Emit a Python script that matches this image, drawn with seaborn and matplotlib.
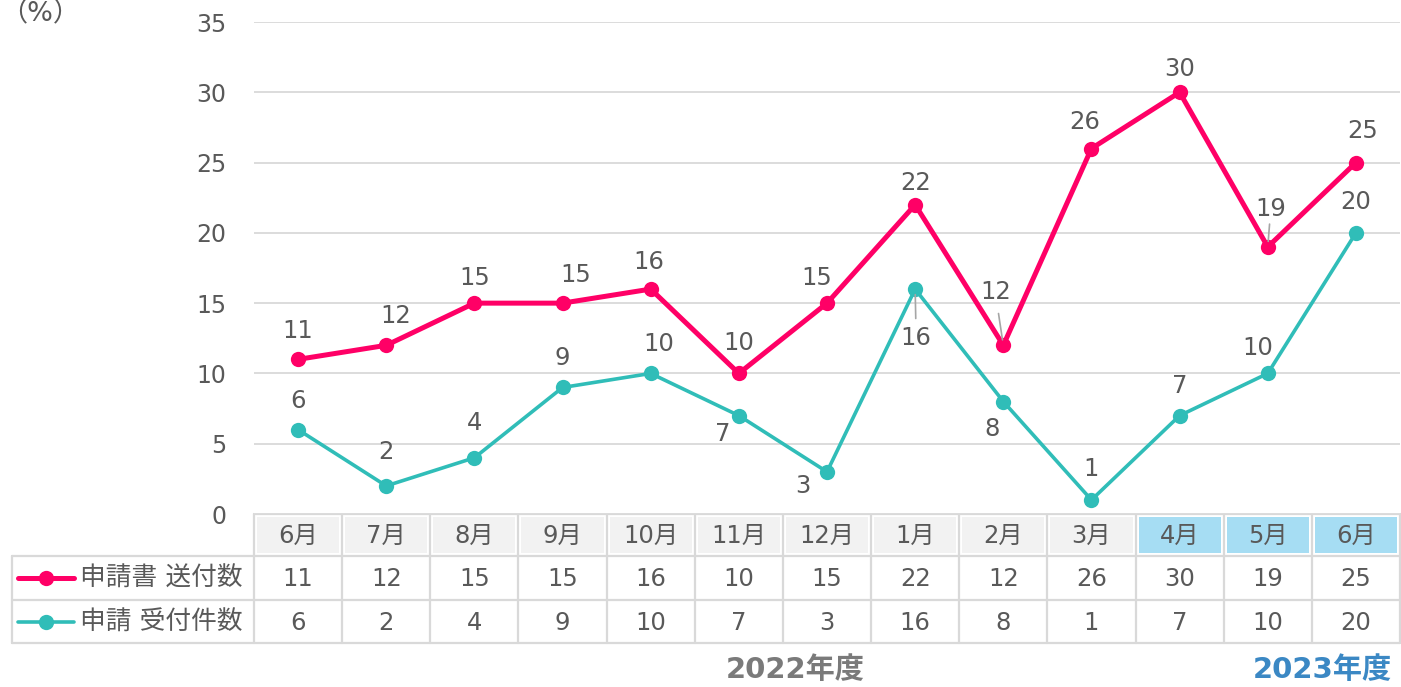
import matplotlib
matplotlib.use("Agg")
import matplotlib.pyplot as plt
import seaborn as sns
import pandas as pd
from matplotlib.patches import Rectangle

months = ["6月", "7月", "8月", "9月", "10月", "11月", "12月", "1月", "2月", "3月", "4月", "5月", "6月"]
sent = [11, 12, 15, 15, 16, 10, 15, 22, 12, 26, 30, 19, 25]
received = [6, 2, 4, 9, 10, 7, 3, 16, 8, 1, 7, 10, 20]
series_names = ["申請書 送付数", "申請 受付件数"]
year_labels = ["2022年度", "2023年度"]
n_2023 = 3

PINK = "#ff0066"
TEAL = "#30bdb8"
TXT = "#595959"
GRID = "#d9d9d9"

# label offsets in pixels (dx, dy), screen y down
sent_off = [(0, -28), (9, -29), (0, -25), (13, -28), (-2, -27), (0, -30), (-10, -25),
            (0, -22), (-8, -53), (-7, -27), (0, -23), (3, -38), (7, -32)]
recv_off = [(0, -29), (0, -34), (0, -35), (0, -29), (8, -29), (-16, 18), (-24, 14),
            (1, 49), (-11, 27), (0, -31), (0, -30), (-10, -25), (0, -31)]
sent_leader = {8, 11}
recv_leader = {7}

sns.set_theme(style="white")
plt.rcParams["font.family"] = ["DejaVu Sans", "Noto Sans CJK JP"]

W, H = 1401, 687
fig = plt.figure(figsize=(W / 100, H / 100), dpi=100)
x0, x1, y0, y1 = 254, 1400, 514, 22
ax = fig.add_axes([x0 / W, 1 - y0 / H, (x1 - x0) / W, (y0 - y1) / H])

df = pd.DataFrame({"i": list(range(len(months))) * 2,
                   "v": sent + received,
                   "s": [series_names[0]] * len(sent) + [series_names[1]] * len(received)})
sns.lineplot(data=df[df.s == series_names[1]], x="i", y="v", color=TEAL, linewidth=2.6,
             marker="o", markersize=11, markeredgewidth=0, ax=ax, zorder=3)
sns.lineplot(data=df[df.s == series_names[0]], x="i", y="v", color=PINK, linewidth=3.6,
             marker="o", markersize=11, markeredgewidth=0, ax=ax, zorder=4)

ax.set_xlim(-0.5, len(months) - 0.5)
ax.set_ylim(0, 35)
ax.set_yticks(range(0, 36, 5))
ax.set_xticks([])
ax.set_xlabel("")
ax.set_ylabel("")
ax.grid(axis="y", color=GRID, linewidth=1.3)
for s in ax.spines.values():
    s.set_visible(False)
ax.tick_params(axis="y", length=0, pad=20, labelsize=17, labelcolor=TXT)

px = 0.72  # points per pixel
def label(vals, offs, leaders):
    for i, (v, (dx, dy)) in enumerate(zip(vals, offs)):
        ax.annotate(str(v), (i, v), xytext=(dx * px, -dy * px), textcoords="offset points",
                    ha="center", va="center", fontsize=17.5, color=TXT, zorder=6)
        if i in leaders:
            ax.annotate("", (i, v), xytext=(dx * px * 0.6, -dy * px * 0.6),
                        textcoords="offset points",
                        arrowprops=dict(arrowstyle="-", color="#a6a6a6", lw=1.2,
                                        shrinkA=0, shrinkB=4), zorder=5)
label(sent, sent_off, sent_leader)
label(received, recv_off, recv_leader)

# table drawn in pixel coordinates
tb = fig.add_axes([0, 0, 1, 1], zorder=-1)
tb.set_xlim(0, W)
tb.set_ylim(H, 0)
tb.axis("off")
cw = (x1 - x0) / len(months)
rows = [514, 556, 600, 643]
for i, m in enumerate(months):
    cx = x0 + cw * i
    fill = "#a6ddf3" if i >= len(months) - n_2023 else "#f2f2f2"
    tb.add_patch(Rectangle((cx + 3, rows[0] + 3), cw - 6, rows[1] - rows[0] - 6, color=fill, lw=0))
    tb.text(cx + cw / 2, (rows[0] + rows[1]) / 2 + 1, m, ha="center", va="center", fontsize=17.5, color=TXT)
    tb.text(cx + cw / 2, (rows[1] + rows[2]) / 2 + 1, str(sent[i]), ha="center", va="center", fontsize=17.5, color=TXT)
    tb.text(cx + cw / 2, (rows[2] + rows[3]) / 2 + 1, str(received[i]), ha="center", va="center", fontsize=17.5, color=TXT)
lw = 1.6
tb.plot([x0, x1], [rows[0]] * 2, color=GRID, lw=lw)
for r in rows[1:]:
    tb.plot([12, x1], [r] * 2, color=GRID, lw=lw)
tb.plot([12, 12], [rows[1], rows[3]], color=GRID, lw=lw)
for i in range(len(months) + 1):
    tb.plot([x0 + cw * i] * 2, [rows[0], rows[3]], color=GRID, lw=lw)

for k, (name, col, lwid) in enumerate([(series_names[0], PINK, 3.6), (series_names[1], TEAL, 2.6)]):
    yy = (rows[k + 1] + rows[k + 2]) / 2
    tb.plot([18, 74], [yy, yy], color=col, lw=lwid, solid_capstyle="round")
    tb.plot([46], [yy], "o", color=col, markersize=11, markeredgewidth=0)
    tb.text(80, yy + 1, name, ha="left", va="center", fontsize=18.5, color=TXT)

tb.text(40, 13, "（%）", ha="center", va="center", fontsize=19.5, color=TXT)
tb.text(795, 670, year_labels[0], ha="center", va="center", fontsize=21,
        fontweight="bold", color="#7a7a7a")
tb.text(1392, 670, year_labels[1], ha="right", va="center", fontsize=21,
        fontweight="bold", color="#3b88c4")

fig.savefig("out.png", dpi=100)
